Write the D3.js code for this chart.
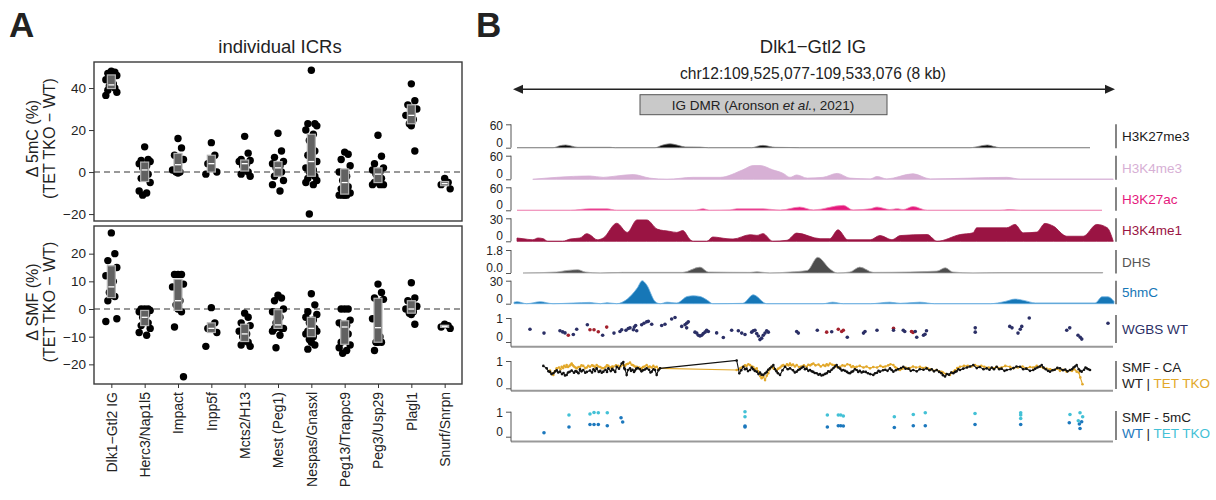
<!DOCTYPE html>
<html>
<head>
<meta charset="utf-8">
<script src="https://cdn.jsdelivr.net/npm/d3@7"></script>
<style>
  body { margin: 0; background: #fff; }
  text { font-family: "Liberation Sans", Arial, sans-serif; fill: #222; }
</style>
</head>
<body>
<svg id="fig" width="1216" height="500"></svg>
<script>
// ---------- panel A data ----------
const icrs = ["Dlk1−Gtl2 IG", "Herc3/Nap1l5", "Impact", "Inpp5f", "Mcts2/H13", "Mest (Peg1)",
  "Nespas/Gnasxl", "Peg13/Trappc9", "Peg3/Usp29", "Plagl1", "Snurf/Snrpn"];

const delta5mC = [
  [48, 47.5, 47, 46, 44, 42, 41, 41, 40, 39, 38, 36.5],
  [12, 6, 5.5, 5, 4, 3, 2, 0, -1, -3, -5, -9, -10, -11],
  [16, 11.5, 8, 6, 1, 0, 0, -0.5],
  [14, 8, 4, 0, -1],
  [17, 9, 6, 5.5, 5, 4, 3, 1, 0, -1, -2],
  [18.5, 10, 7, 5, 4, 3, 2, 1, 0, -2, -4, -6, -9],
  [48.5, 23, 23, 22, 20, 18, 15, 14, 10, 8, 5, 2, 1, 0, -1, -2, -3, -4, -5, -6, -20],
  [9.5, 8.5, 6, 3, 0, -2, -4, -5, -7, -8, -10, -11, -11, -11, -11],
  [17.5, 7.5, 4, 2, 1, 0, -1, -2, -3, -5, -6, -6, -6],
  [42, 34, 32, 30, 27, 25, 23, 22, 10],
  [-3, -5, -6, -8]
];

const deltaSMF = [
  [27.5, 20, 17.5, 15, 12, 10, 6, 5, 4.5, 3, -3.5, -4.5],
  [0, 0, 0, -0.5, -1, -2, -3, -4, -5, -6, -7, -8.5, -9.5],
  [12.5, 12.5, 12.5, 9, 8, 3, 1.5, 0, -1, -6.5, -24.5],
  [0.5, -5, -7, -8.5, -13.5],
  [-1.5, -3, -5, -6, -8, -9, -10, -11.5, -12, -13, -13.5],
  [5, 4, 3, 0, -1, -3, -5, -6.5, -7, -7, -7, -8, -9.5, -14],
  [5.5, 1.5, -1, -2, -3, -4, -5, -6, -7, -8, -8, -9, -10, -11, -12, -13, -14.5],
  [0, 0, 0, -4, -5, -6, -6, -7, -9, -12, -13, -14, -15, -16],
  [9, 6, 4, 3.5, -3.5, -10, -12, -12, -12, -15],
  [9.5, 4, 3, 1, 0, -1, -1.5, -2, -5.5],
  [-5.5, -6, -6.5, -7]
];

// ---------- panel B data (positions in kb from chr12:109,525,077) ----------
const h3k27me3 = [[0.04,0],[0.52,0],[0.61,5],[0.69,7],[0.77,4],[0.85,1],[1.28,1],[1.35,0],[1.88,0],[1.97,6],[2.08,10],[2.19,6],[2.28,2],[2.48,1.5],[2.59,0],[3.17,0],[3.25,4],[3.32,6],[3.41,3],[3.48,1],[3.68,0.5],[3.81,0],[6.08,0],[6.21,4],[6.31,7],[6.4,3],[6.48,0],[7.68,0]];
const h3k4me3 = [[0.25,0],[0.57,5],[1.01,8.5],[1.19,5],[1.37,8.5],[1.59,12],[1.81,3],[2.04,0],[2.39,5],[2.75,5],[3.05,24],[3.19,35],[3.28,35],[3.45,24],[3.59,15],[3.68,5],[3.77,11],[3.91,3],[4.12,5],[4.31,15],[4.48,3],[4.75,1],[4.84,7],[4.97,1],[5.32,14],[5.55,1],[6.08,3],[6.57,5],[6.75,0.5],[7.99,0.5]];
const h3k27ac = [[0.04,0],[0.75,0],[1.01,4],[1.24,4],[1.37,0],[2.41,0],[2.52,4],[2.61,0],[2.88,1],[2.97,4],[3.32,4],[3.55,0.5],[3.81,8.5],[3.99,1],[4.39,13],[4.52,1],[4.75,4],[4.84,8.5],[5.01,2],[5.11,4],[5.19,2],[5.32,10],[5.51,0],[6.48,0],[6.61,2],[6.75,0],[7.84,0]];
const h3k4me1 = [[0.04,4.3],[0.12,3.4],[0.25,2],[0.32,4.3],[0.39,3.4],[0.45,0],[0.65,0],[0.75,3],[0.88,4.3],[0.97,10],[1.01,8.6],[1.11,2],[1.19,4.3],[1.37,23.6],[1.51,11.6],[1.64,27.9],[1.77,27.9],[1.91,15.9],[2.08,12.9],[2.17,11.6],[2.25,14],[2.35,2],[2.39,0],[2.57,0],[2.65,5.6],[2.84,3.4],[2.92,3],[3.15,8.6],[3.24,7.7],[3.32,10],[3.45,0],[3.64,1.3],[3.77,10.7],[4.08,3.4],[4.21,3.4],[4.32,15],[4.45,2],[4.75,2],[4.88,7.5],[5.04,2],[5.15,7.5],[5.51,8.8],[5.64,0],[5.95,8.8],[6.12,11],[6.17,17.6],[6.57,17.6],[6.68,22],[6.79,11],[6.97,12],[7.08,23.3],[7.19,19.8],[7.37,6.6],[7.59,6.6],[7.77,22],[7.91,17.6],[7.99,0]];
const dhs = [[0.12,0],[0.57,0.08],[0.71,0.2],[0.85,0.26],[0.95,0.08],[1.15,0],[1.45,0.05],[2.25,0.05],[2.48,0.46],[2.59,0.08],[3.15,0.05],[3.24,0.1],[3.41,0],[3.68,0.08],[3.91,0.2],[4.05,1.23],[4.21,0.33],[4.31,0],[4.48,0.08],[4.61,0.46],[4.79,0.05],[5.28,0.08],[5.64,0.15],[5.75,0.41],[5.85,0.08],[6.12,0],[6.48,0.03],[7.85,0.03]];
const hmc5 = [[0,2],[0.04,2.6],[0.17,0],[0.35,2.6],[0.52,0],[0.79,0.9],[1.01,1.7],[1.15,0],[1.24,1.3],[1.37,0],[1.51,6],[1.64,20],[1.71,30],[1.77,24.4],[1.88,3],[1.95,0],[2.04,2],[2.17,1],[2.31,9.4],[2.39,10.3],[2.48,9.4],[2.57,5],[2.65,0],[3.05,0.5],[3.19,11.6],[3.37,0],[4.12,0],[4.25,2],[4.39,0],[4.75,0],[5.01,2],[5.15,0.5],[5.41,2],[5.61,0],[6.35,0],[6.55,3],[6.68,6],[6.81,4],[6.95,1],[7.75,1],[7.84,9],[7.92,9],[8.0,3]];

// WGBS WT: [kb, methylation, flagged CpG]
const wgbs = [[0.213,0.53,0],[0.40,0.37,0],[0.613,0.47,0],[0.649,0.42,0],[0.68,0.38,0],[0.724,0.28,1],[0.791,0.31,0],[0.836,0.53,0],[0.978,0.72,0],[1.013,0.51,1],[1.067,0.51,1],[1.124,0.43,1],[1.182,0.28,0],[1.236,0.62,1],[1.333,0.37,0],[1.413,0.44,0],[1.436,0.51,0],[1.493,0.49,0],[1.524,0.56,0],[1.547,0.59,0],[1.591,0.51,0],[1.604,0.62,0],[1.622,0.69,0],[1.636,0.47,0],[1.702,0.72,0],[1.733,0.78,0],[1.769,0.84,0],[1.791,0.86,0],[1.836,0.74,0],[1.969,0.69,0],[2.013,0.74,0],[2.102,0.96,0],[2.147,1.02,0],[2.236,0.65,0],[2.28,0.72,0],[2.302,0.78,0],[2.324,0.84,0],[2.302,0.59,0],[2.413,0.41,0],[2.436,0.37,0],[2.458,0.28,0],[2.48,0.25,0],[2.502,0.28,0],[2.524,0.35,0],[2.547,0.41,0],[2.569,0.49,0],[2.591,0.44,0],[2.702,0.38,0],[2.791,0.19,0],[2.902,0.49,0],[2.991,0.47,0],[3.036,0.37,0],[3.08,0.31,0],[3.169,0.41,0],[3.191,0.47,0],[3.213,0.49,0],[3.236,0.35,0],[3.258,0.25,0],[3.28,0.10,0],[3.302,0.16,0],[3.324,0.28,0],[3.347,0.37,0],[3.369,0.47,0],[3.391,0.41,0],[3.769,0.44,0],[3.791,0.37,0],[4.044,0.49,0],[4.169,0.41,1],[4.236,0.43,0],[4.324,0.53,1],[4.369,0.44,1],[4.391,0.49,1],[4.444,0.20,0],[4.66,0.37,0],[4.68,0.44,0],[4.84,0.49,0],[5.06,0.57,1],[5.06,0.49,0],[5.19,0.49,0],[5.21,0.44,0],[5.30,0.44,1],[5.32,0.40,1],[5.35,0.44,0],[5.37,0.20,0],[5.46,0.28,0],[5.48,0.32,0],[5.50,0.47,0],[6.15,0.59,0],[6.15,0.41,0],[6.61,0.65,0],[6.64,0.59,0],[6.72,0.37,0],[6.75,0.53,0],[6.77,0.65,0],[6.87,1.0,0],[7.37,0.49,0],[7.41,0.59,0],[7.52,0.28,0],[7.55,0.20,0],[7.57,0.12,0],[7.92,0.78,0]];

// SMF at CA sites: [kb, accessibility]
const smfCaWT = [[0.391,0.82],[0.436,0.73],[0.46,0.62],[0.48,0.6],[0.50,0.52],[0.524,0.55],[0.55,0.62],[0.57,0.66],[0.59,0.58],[0.613,0.61],[0.64,0.52],[0.66,0.56],[0.68,0.47],[0.702,0.49],[0.72,0.58],[0.74,0.6],[0.769,0.65],[0.80,0.57],[0.82,0.63],[0.836,0.61],[0.86,0.55],[0.88,0.7],[0.90,0.62],[0.924,0.67],[0.95,0.57],[0.97,0.6],[1.013,0.65],[1.04,0.58],[1.06,0.7],[1.08,0.63],[1.102,0.73],[1.13,0.6],[1.15,0.64],[1.17,0.57],[1.191,0.61],[1.22,0.68],[1.24,0.6],[1.258,0.73],[1.29,0.63],[1.31,0.71],[1.324,0.67],[1.35,0.6],[1.369,0.79],[1.40,0.72],[1.436,0.91],[1.458,0.96],[1.47,0.74],[1.48,0.7],[1.502,0.49],[1.52,0.67],[1.547,0.73],[1.56,0.64],[1.58,0.68],[1.60,0.6],[1.613,0.65],[1.63,0.72],[1.65,0.74],[1.68,0.70],[1.70,0.62],[1.72,0.66],[1.745,0.69],[1.769,0.73],[1.80,0.68],[1.82,0.58],[1.836,0.61],[1.86,0.7],[1.88,0.67],[1.902,0.49],[1.925,0.66],[1.947,0.73],[2.969,1.02],[3.004,0.55],[3.03,0.66],[3.058,0.79],[3.08,0.7],[3.10,0.72],[3.12,0.63],[3.147,0.67],[3.17,0.76],[3.19,0.7],[3.21,0.64],[3.236,0.61],[3.26,0.52],[3.28,0.58],[3.30,0.5],[3.324,0.49],[3.35,0.55],[3.37,0.6],[3.39,0.68],[3.413,0.73],[3.435,0.79],[3.458,0.85],[3.48,0.7],[3.50,0.62],[3.52,0.55],[3.547,0.49],[3.58,0.66],[3.613,0.79],[3.65,0.7],[3.68,0.73],[3.72,0.66],[3.745,0.58],[3.769,0.61],[3.79,0.67],[3.81,0.7],[3.835,0.75],[3.858,0.79],[3.88,0.7],[3.90,0.72],[3.925,0.64],[3.947,0.67],[3.97,0.62],[3.99,0.6],[4.01,0.56],[4.036,0.55],[4.06,0.5],[4.08,0.52],[4.10,0.47],[4.124,0.49],[4.15,0.53],[4.17,0.55],[4.19,0.62],[4.213,0.61],[4.235,0.68],[4.26,0.74],[4.28,0.8],[4.302,0.85],[4.325,0.76],[4.35,0.72],[4.37,0.65],[4.391,0.67],[4.415,0.64],[4.44,0.6],[4.46,0.56],[4.48,0.55],[4.50,0.6],[4.52,0.62],[4.545,0.7],[4.569,0.67],[4.59,0.6],[4.61,0.64],[4.635,0.58],[4.658,0.61],[4.69,0.6],[4.72,0.55],[4.75,0.52],[4.791,0.49],[4.815,0.55],[4.84,0.57],[4.86,0.64],[4.88,0.61],[4.92,0.66],[4.95,0.68],[4.98,0.64],[5.013,0.73],[5.035,0.67],[5.058,0.61],[5.09,0.66],[5.12,0.7],[5.16,0.74],[5.191,0.79],[5.22,0.72],[5.26,0.72],[5.29,0.64],[5.324,0.67],[5.37,0.62],[5.41,0.7],[5.46,0.68],[5.502,0.73],[5.54,0.66],[5.57,0.7],[5.60,0.62],[5.636,0.67],[5.67,0.6],[5.70,0.55],[5.72,0.48],[5.747,0.43],[5.77,0.52],[5.80,0.5],[5.83,0.58],[5.858,0.55],[5.88,0.6],[5.90,0.62],[5.925,0.7],[5.947,0.67],[5.99,0.72],[6.04,0.76],[6.08,0.8],[6.124,0.85],[6.17,0.74],[6.21,0.78],[6.26,0.7],[6.302,0.73],[6.34,0.68],[6.37,0.76],[6.40,0.7],[6.436,0.79],[6.47,0.7],[6.50,0.72],[6.54,0.64],[6.569,0.67],[6.62,0.7],[6.66,0.74],[6.70,0.8],[6.747,0.79],[6.79,0.7],[6.83,0.72],[6.88,0.64],[6.924,0.67],[6.95,0.72],[6.98,0.76],[7.01,0.8],[7.036,0.85],[7.06,0.76],[7.09,0.7],[7.12,0.64],[7.147,0.61],[7.18,0.66],[7.21,0.68],[7.245,0.75],[7.28,0.73],[7.32,0.66],[7.35,0.69],[7.38,0.62],[7.413,0.67],[7.44,0.7],[7.46,0.76],[7.48,0.8],[7.502,0.85],[7.53,0.7],[7.55,0.64],[7.569,0.61],[7.60,0.68],[7.62,0.76],[7.636,0.73],[7.66,0.7],[7.68,0.67]];
const smfCaTKO = [[0.48,0.65],[0.50,0.55],[0.524,0.49],[0.545,0.62],[0.569,0.73],[0.60,0.76],[0.62,0.7],[0.636,0.79],[0.655,0.74],[0.67,0.82],[0.69,0.78],[0.702,0.85],[0.72,0.78],[0.74,0.82],[0.755,0.86],[0.769,0.91],[0.785,0.84],[0.80,0.8],[0.82,0.76],[0.836,0.73],[0.86,0.78],[0.88,0.78],[0.90,0.84],[0.924,0.82],[0.95,0.74],[0.97,0.76],[0.99,0.82],[1.013,0.79],[1.04,0.84],[1.06,0.82],[1.08,0.78],[1.102,0.85],[1.125,0.8],[1.15,0.78],[1.17,0.74],[1.191,0.73],[1.22,0.78],[1.24,0.84],[1.258,0.82],[1.29,0.76],[1.31,0.8],[1.324,0.79],[1.36,0.84],[1.39,0.82],[1.42,0.8],[1.458,0.85],[1.48,0.82],[1.50,0.88],[1.52,0.9],[1.547,0.94],[1.57,0.86],[1.59,0.84],[1.61,0.8],[1.636,0.79],[1.655,0.74],[1.67,0.76],[1.69,0.7],[1.702,0.73],[1.72,0.78],[1.74,0.8],[1.769,0.85],[1.79,0.78],[1.81,0.8],[1.835,0.76],[1.858,0.82],[1.88,0.76],[1.902,0.79],[1.925,0.7],[1.947,0.73],[2.969,0.67],[3.01,0.72],[3.035,0.76],[3.058,0.79],[3.08,0.84],[3.10,0.82],[3.125,0.88],[3.147,0.85],[3.17,0.8],[3.19,0.78],[3.21,0.7],[3.236,0.73],[3.255,0.62],[3.27,0.55],[3.285,0.44],[3.302,0.37],[3.325,0.42],[3.347,0.30],[3.37,0.46],[3.39,0.55],[3.41,0.7],[3.436,0.79],[3.455,0.74],[3.47,0.72],[3.502,0.67],[3.525,0.72],[3.55,0.76],[3.57,0.82],[3.591,0.85],[3.615,0.8],[3.64,0.88],[3.66,0.84],[3.68,0.91],[3.70,0.84],[3.72,0.87],[3.745,0.8],[3.769,0.85],[3.80,0.78],[3.83,0.8],[3.865,0.84],[3.902,0.79],[3.925,0.86],[3.95,0.84],[3.97,0.88],[3.991,0.91],[4.02,0.84],[4.06,0.87],[4.09,0.8],[4.124,0.85],[4.15,0.82],[4.17,0.88],[4.19,0.84],[4.213,0.91],[4.245,0.86],[4.28,0.84],[4.31,0.78],[4.347,0.79],[4.38,0.84],[4.41,0.82],[4.445,0.88],[4.48,0.85],[4.50,0.78],[4.52,0.81],[4.545,0.76],[4.569,0.79],[4.61,0.82],[4.66,0.76],[4.70,0.8],[4.747,0.73],[4.79,0.78],[4.84,0.76],[4.885,0.82],[4.92,0.78],[4.95,0.8],[4.99,0.84],[5.02,0.88],[5.058,0.85],[5.08,0.78],[5.10,0.74],[5.125,0.7],[5.147,0.67],[5.18,0.72],[5.22,0.76],[5.25,0.72],[5.28,0.74],[5.32,0.8],[5.36,0.76],[5.413,0.79],[5.45,0.74],[5.49,0.76],[5.52,0.72],[5.56,0.7],[5.60,0.64],[5.636,0.67],[5.67,0.62],[5.70,0.6],[5.72,0.58],[5.76,0.52],[5.813,0.49],[5.84,0.58],[5.88,0.66],[5.91,0.74],[5.947,0.79],[6.0,0.82],[6.05,0.82],[6.10,0.8],[6.147,0.85],[6.19,0.8],[6.23,0.82],[6.27,0.79],[6.33,0.76],[6.391,0.73],[6.43,0.78],[6.46,0.74],[6.50,0.76],[6.55,0.82],[6.613,0.79],[6.66,0.74],[6.72,0.76],[6.78,0.8],[6.836,0.73],[6.88,0.78],[6.92,0.76],[6.97,0.82],[7.013,0.79],[7.06,0.74],[7.10,0.72],[7.15,0.7],[7.191,0.67],[7.24,0.72],[7.28,0.64],[7.32,0.68],[7.369,0.61],[7.41,0.66],[7.44,0.64],[7.47,0.7],[7.502,0.61],[7.53,0.58],[7.55,0.4],[7.58,0.15]];

// SMF at CpG sites: [kb, methylation]
const smf5mcWT = [[0.40,0.16],[0.733,0.39],[1.013,0.49],[1.067,0.49],[1.124,0.49],[1.244,0.44],[1.427,0.76],[1.449,0.59],[3.08,0.43],[3.08,0.39],[4.178,0.39],[4.324,0.44],[4.356,0.44],[4.391,0.43],[5.071,0.37],[5.324,0.44],[5.484,0.44],[6.147,0.49],[6.756,0.49],[7.404,0.56],[7.538,0.51],[7.547,0.33],[7.569,0.60]];
const smf5mcTKO = [[0.733,0.87],[1.013,0.91],[1.067,0.97],[1.124,0.96],[1.244,0.96],[3.08,1.0],[3.08,0.8],[4.178,0.87],[4.324,0.87],[4.356,0.87],[4.391,0.83],[5.071,0.8],[5.324,0.89],[5.484,0.96],[6.147,0.93],[6.756,0.96],[6.756,0.87],[6.756,0.73],[7.413,0.89],[7.547,0.96],[7.582,0.8],[7.524,0.64]];

// ---------- drawing ----------
const svg = d3.select("#fig");

/**
 * Panel A: dot + box plots per ICR
 */
const panelX0 = 94, panelX1 = 462;
const x = d3.scalePoint().domain(icrs).range([panelX0, panelX1]).padding(0.52);

const yTop = d3.scaleLinear().domain([-23.3, 52.4]).range([221, 62]);
const yBot = d3.scaleLinear().domain([-27.1, 30]).range([384, 226]);

svg.append("text").attr("x", 9).attr("y", 37)
  .attr("font-size", 35).attr("font-weight", "bold").attr("fill", "#000").text("A");
svg.append("text").attr("x", 280).attr("y", 53).attr("text-anchor", "middle")
  .attr("font-size", 18.5).text("individual ICRs");

const jitter = [0, 3.5, -3.5, 5.5, -5.5, 2, -2];

function drawPanel(values, y, ticks, label) {
  const g = svg.append("g");
  const [yb, yt] = y.range();

  // zero line
  g.append("line")
    .attr("x1", panelX0).attr("x2", panelX1)
    .attr("y1", y(0)).attr("y2", y(0))
    .attr("stroke", "#333").attr("stroke-width", 1.1)
    .attr("stroke-dasharray", "6,4");

  icrs.forEach((c, i) => {
    const vals = values[i].slice().sort(d3.ascending);
    const cx = x(c);
    g.selectAll(null).data(values[i]).enter().append("circle")
      .attr("cx", (d, j) => cx + jitter[j % jitter.length])
      .attr("cy", d => y(d))
      .attr("r", 3.7)
      .attr("fill", "#000");
    const q1 = d3.quantile(vals, 0.25), q3 = d3.quantile(vals, 0.75), med = d3.quantile(vals, 0.5);
    g.append("rect")
      .attr("x", cx - 4).attr("width", 8)
      .attr("y", y(q3)).attr("height", Math.max(2, y(q1) - y(q3)))
      .attr("fill", "#616161").attr("stroke", "#b5b5b5").attr("stroke-width", 1.2);
    g.append("line")
      .attr("x1", cx - 3).attr("x2", cx + 3)
      .attr("y1", y(med)).attr("y2", y(med))
      .attr("stroke", "#fff").attr("stroke-width", 1.3);
  });

  g.append("rect")
    .attr("x", panelX0).attr("y", yt)
    .attr("width", panelX1 - panelX0).attr("height", yb - yt)
    .attr("fill", "none").attr("stroke", "#3a3a3a").attr("stroke-width", 1.4);

  const ax = g.append("g").attr("transform", `translate(${panelX0},0)`)
    .call(d3.axisLeft(y).tickValues(ticks).tickSize(5).tickPadding(3));
  ax.select(".domain").remove();
  ax.selectAll("line").attr("stroke", "#333");
  ax.selectAll("text").attr("font-size", 13.5).attr("fill", "#222")
    .attr("font-family", "'Liberation Sans', Arial, sans-serif");

  const cy = (yt + yb) / 2 - 3;
  const lab = g.append("text")
    .attr("transform", `translate(38,${cy}) rotate(-90)`)
    .attr("text-anchor", "middle").attr("font-size", 16);
  lab.append("tspan").attr("x", 0).attr("dy", 0).text(label);
  lab.append("tspan").attr("x", 0).attr("dy", 16.5).text("(TET TKO − WT)");
}

drawPanel(delta5mC, yTop, [-20, 0, 20, 40], "Δ 5mC (%)");
drawPanel(deltaSMF, yBot, [-20, -10, 0, 10, 20], "Δ SMF (%)");

const xAx = svg.append("g").attr("transform", "translate(0,384)")
  .call(d3.axisBottom(x).tickSize(4).tickPadding(3));
xAx.select(".domain").remove();
xAx.selectAll("line").attr("stroke", "#333");
xAx.selectAll("text")
  .attr("font-size", 14).attr("fill", "#222")
  .attr("font-family", "'Liberation Sans', Arial, sans-serif")
  .attr("text-anchor", "end")
  .attr("dy", "0.35em")
  .attr("transform", "translate(0,8) rotate(-90)")
  .attr("x", 0).attr("y", 0);

/**
 * Panel B: genome browser tracks
 */
const xg = d3.scaleLinear().domain([0, 8]).range([514, 1114]);

svg.append("text").attr("x", 476).attr("y", 37)
  .attr("font-size", 35).attr("font-weight", "bold").attr("fill", "#000").text("B");
svg.append("text").attr("x", 813).attr("y", 53).attr("text-anchor", "middle")
  .attr("font-size", 18.5).text("Dlk1−Gtl2 IG");
svg.append("text").attr("x", 813).attr("y", 79).attr("text-anchor", "middle")
  .attr("font-size", 15.6).text("chr12:109,525,077-109,533,076 (8 kb)");

// double arrow
const arrowY = 89.3;
svg.append("line").attr("x1", xg(0) + 6).attr("x2", xg(8) - 5)
  .attr("y1", arrowY).attr("y2", arrowY)
  .attr("stroke", "#222").attr("stroke-width", 1.6);
svg.append("path")
  .attr("d", d3.line()([[xg(0) - 1, arrowY], [xg(0) + 9, arrowY - 4.5], [xg(0) + 9, arrowY + 4.5]]) + "Z")
  .attr("fill", "#222");
svg.append("path")
  .attr("d", d3.line()([[xg(8) + 1, arrowY], [xg(8) - 9, arrowY - 4.5], [xg(8) - 9, arrowY + 4.5]]) + "Z")
  .attr("fill", "#222");

// DMR box
svg.append("rect").attr("x", 640).attr("y", 94.7).attr("width", 247).attr("height", 20)
  .attr("fill", "#c9c9c9").attr("stroke", "#555").attr("stroke-width", 1);
const dmr = svg.append("text").attr("x", 763).attr("y", 109.5).attr("text-anchor", "middle").attr("font-size", 13.5);
dmr.append("tspan").text("IG DMR (Aronson ");
dmr.append("tspan").attr("font-style", "italic").text("et al.");
dmr.append("tspan").text(", 2021)");

const axisX = 511;
const labelX = 1122;
const lineX = 1116;

const signalTracks = [
  { name: "H3K27me3", data: h3k27me3, top: 124.3, base: 147.7, max: 60, f: "d", color: "#0d0d0d", lab: "#1a1a1a", stroke: "#888" },
  { name: "H3K4me3", data: h3k4me3, top: 155.7, base: 179.3, max: 60, f: "d", color: "#d7b0d5", lab: "#d7b0d5", stroke: "#d7b0d5" },
  { name: "H3K27ac", data: h3k27ac, top: 187.3, base: 210.3, max: 60, f: "d", color: "#e5197d", lab: "#e5197d", stroke: "#f08ab8" },
  { name: "H3K4me1", data: h3k4me1, top: 218.3, base: 241.3, max: 30, f: "d", color: "#9a1443", lab: "#9a1443", stroke: "#9a1443" },
  { name: "DHS", data: dhs, top: 250, base: 273, max: 1.8, f: ".1f", color: "#4d4d4d", lab: "#555", stroke: "#aaa" },
  { name: "5hmC", data: hmc5, top: 280.7, base: 303.7, max: 30, f: "d", color: "#1677b7", lab: "#1677b7", stroke: "#6aaee0" }
];

function leftAxis(y, vals, f, extra) {
  const ax = svg.append("g").attr("transform", `translate(${axisX},0)`)
    .call(d3.axisLeft(y).tickValues(vals).tickSize(5).tickPadding(3).tickFormat(d3.format(f)));
  ax.select(".domain").remove();
  ax.selectAll("line").attr("stroke", "#555");
  ax.selectAll("text").attr("font-size", 12).attr("fill", "#222")
    .attr("font-family", "'Liberation Sans', Arial, sans-serif")
    .attr("dy", d => d === 0 ? "-0.12em" : "0.4em");
  const [yb, yt] = y.range();
  ax.append("line").attr("x1", 0).attr("x2", 0)
    .attr("y1", yt).attr("y2", yb + (extra || 0))
    .attr("stroke", "#555");
}

function rightLabel(y0, y1, lines) {
  svg.append("line").attr("x1", lineX).attr("x2", lineX).attr("y1", y0).attr("y2", y1)
    .attr("stroke", "#333").attr("stroke-width", 1.2);
  const n = lines.length;
  const mid = (y0 + y1) / 2;
  lines.forEach((parts, k) => {
    const t = svg.append("text").attr("x", labelX)
      .attr("y", mid + (k - (n - 1) / 2) * 16).attr("dy", "0.36em")
      .attr("font-size", 13.5);
    parts.forEach(p => t.append("tspan").attr("fill", p[1]).text(p[0]));
  });
}

signalTracks.forEach(t => {
  const y = d3.scaleLinear().domain([0, t.max]).range([t.base, t.top]);
  const area = d3.area().x(d => xg(d[0])).y0(t.base).y1(d => y(d[1])).curve(d3.curveMonotoneX);
  svg.append("path").datum(t.data).attr("d", area)
    .attr("fill", t.color).attr("stroke", t.stroke).attr("stroke-width", 0.8);
  leftAxis(y, [0, t.max], t.f);
  rightLabel(t.top, t.base + 0.5, [[[t.name, t.lab]]]);
});

// WGBS
const wgbsTrack = { top: 318, base: 342, floor: 346.7 };
const yW = d3.scaleLinear().domain([0, 1]).range([wgbsTrack.base, wgbsTrack.top]);
svg.append("line").attr("x1", axisX).attr("x2", 1113)
  .attr("y1", wgbsTrack.floor).attr("y2", wgbsTrack.floor).attr("stroke", "#999").attr("stroke-width", 2);
svg.append("g").selectAll("circle").data(wgbs).enter().append("circle")
  .attr("cx", d => xg(d[0])).attr("cy", d => yW(d[1])).attr("r", 1.8)
  .attr("fill", d => d[2] ? "#a3202c" : "#2b2f66");
leftAxis(yW, [0, 1], "d", wgbsTrack.floor - wgbsTrack.base);
rightLabel(315, 343, [[["WGBS WT", "#2b2f66"]]]);

// SMF - CA
const caTrack = { top: 361, base: 388.3, floor: 390.7 };
const yCA = d3.scaleLinear().domain([0, 1]).range([caTrack.base, caTrack.top]);
svg.append("line").attr("x1", axisX).attr("x2", 1113)
  .attr("y1", caTrack.floor).attr("y2", caTrack.floor).attr("stroke", "#999").attr("stroke-width", 2);
const caLine = d3.line().x(d => xg(d[0])).y(d => yCA(d[1]));
[[smfCaTKO, "#e2a82a"], [smfCaWT, "#111"]].forEach(([s, col]) => {
  svg.append("path").datum(s).attr("d", caLine)
    .attr("fill", "none").attr("stroke", col).attr("stroke-width", 1.1);
  svg.append("g").selectAll("circle").data(s).enter().append("circle")
    .attr("cx", d => xg(d[0])).attr("cy", d => yCA(d[1])).attr("r", 1.3).attr("fill", col);
});
leftAxis(yCA, [0, 1], "d", caTrack.floor - caTrack.base);
rightLabel(361, 389, [[["SMF - CA", "#222"]], [["WT", "#222"], [" | ", "#222"], ["TET TKO", "#e2a82a"]]]);

// SMF - 5mC
const mcTrack = { top: 411.7, base: 436.7, floor: 441.5 };
const yMC = d3.scaleLinear().domain([0, 1]).range([mcTrack.base, mcTrack.top]);
svg.append("line").attr("x1", axisX).attr("x2", 1113)
  .attr("y1", mcTrack.floor).attr("y2", mcTrack.floor).attr("stroke", "#999").attr("stroke-width", 2);
[[smf5mcTKO, "#43c1d6"], [smf5mcWT, "#1c78bd"]].forEach(([s, col]) => {
  svg.append("g").selectAll("circle").data(s).enter().append("circle")
    .attr("cx", d => xg(d[0])).attr("cy", d => yMC(d[1])).attr("r", 1.8).attr("fill", col);
});
leftAxis(yMC, [0, 1], "d", mcTrack.floor - mcTrack.base);
rightLabel(411, 440, [[["SMF - 5mC", "#222"]], [["WT", "#1c78bd"], [" | ", "#222"], ["TET TKO", "#43c1d6"]]]);
</script>
</body>
</html>
